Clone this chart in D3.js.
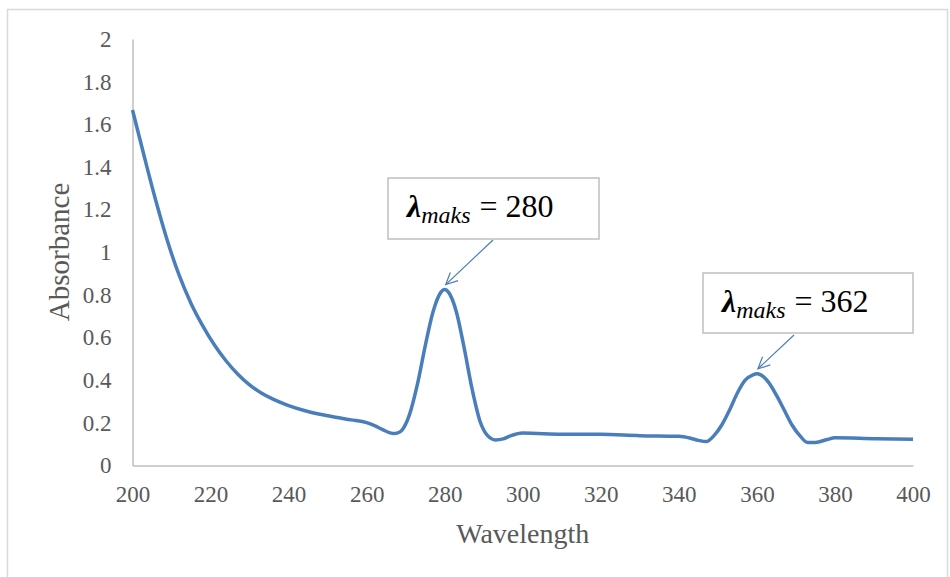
<!DOCTYPE html>
<html>
<head>
<meta charset="utf-8">
<script src="https://cdn.jsdelivr.net/npm/d3@7"></script>
<style>
  body { margin: 0; background: #fff; }
  svg { display: block; }
  svg text { font-family: 'Liberation Serif', 'Times New Roman', serif; }
</style>
</head>
<body>
<svg id="chart" width="950" height="577"></svg>
<script>
// Data
let wavelength = [200, 203, 206, 209, 212, 215, 218, 221, 224, 227, 230, 233, 236, 240, 244, 248, 252, 256, 260, 262, 264, 266, 267, 268, 269, 271, 273, 275, 277, 279, 280, 281, 283, 285, 287, 289, 291, 293, 295, 297, 300, 310, 320, 330, 340, 343, 345, 347, 349, 351, 353, 355, 357, 359, 360, 361, 363, 365, 367, 369, 371, 373, 375, 378, 380, 390, 400];
let absorbance = [1.667, 1.45, 1.24, 1.05, 0.89, 0.76, 0.655, 0.565, 0.49, 0.428, 0.378, 0.34, 0.311, 0.281, 0.258, 0.24, 0.226, 0.214, 0.201, 0.187, 0.169, 0.153, 0.15, 0.153, 0.165, 0.24, 0.38, 0.56, 0.72, 0.812, 0.825, 0.812, 0.72, 0.55, 0.36, 0.21, 0.14, 0.12, 0.125, 0.14, 0.152, 0.147, 0.146, 0.14, 0.137, 0.128, 0.118, 0.112, 0.14, 0.19, 0.26, 0.34, 0.40, 0.425, 0.43, 0.425, 0.39, 0.33, 0.26, 0.19, 0.14, 0.108, 0.108, 0.122, 0.13, 0.126, 0.123];
let xTicks = [200, 220, 240, 260, 280, 300, 320, 340, 360, 380, 400];
let yTicks = [0, 0.2, 0.4, 0.6, 0.8, 1, 1.2, 1.4, 1.6, 1.8, 2];
let peakNames = ["280", "362"];
let peakAt = [280, 360];

let svg = d3.select("svg#chart");
let serif = "'Liberation Serif', 'Times New Roman', serif";

// outer chart border
svg.append("rect")
  .attr("x", 7.5).attr("y", 9.5)
  .attr("width", 940).attr("height", 580)
  .attr("fill", "#fff")
  .attr("stroke", "#d9d9d9")
  .attr("stroke-width", 1.5);

let x = d3.scaleLinear().domain([200, 400]).range([132.5, 913]);
let y = d3.scaleLinear().domain([0, 2]).range([465.5, 39]);

let grey = "#595959";

// y axis
let yAxis = svg.append("g")
  .attr("transform", "translate(" + x(200) + ",0)")
  .call(d3.axisLeft(y).tickValues(yTicks).tickSize(0).tickPadding(21).tickFormat(d3.format("")));
yAxis.attr("font-family", serif).attr("font-size", 23);
yAxis.select(".domain").attr("stroke", "#bfbfbf").attr("stroke-width", 1.5);
yAxis.selectAll("text").attr("fill", grey);

// x axis
let xAxis = svg.append("g")
  .attr("transform", "translate(0," + y(0) + ")")
  .call(d3.axisBottom(x).tickValues(xTicks).tickSize(0).tickPadding(20));
xAxis.attr("font-family", serif).attr("font-size", 23);
xAxis.select(".domain").attr("stroke", "#bfbfbf").attr("stroke-width", 1.5);
xAxis.selectAll("text").attr("fill", grey);

// axis titles
svg.append("text")
  .attr("x", (x(200) + x(400)) / 2)
  .attr("y", 543)
  .attr("text-anchor", "middle")
  .attr("fill", grey)
  .attr("font-family", serif)
  .attr("font-size", 28)
  .text("Wavelength");

svg.append("text")
  .attr("transform", "translate(69," + 252 + ")rotate(-90)")
  .attr("text-anchor", "middle")
  .attr("fill", grey)
  .attr("font-family", serif)
  .attr("font-size", 29)
  .text("Absorbance");

// spectrum line
let points = wavelength.map((w, i) => [w, absorbance[i]]);
svg.append("path")
  .datum(points)
  .attr("fill", "none")
  .attr("stroke", "#4a7ebb")
  .attr("stroke-width", 3.5)
  .attr("stroke-linejoin", "round")
  .attr("d", d3.line().x(d => x(d[0])).y(d => y(d[1])).curve(d3.curveMonotoneX));

// callouts
let boxes = [
  { left: 388, top: 178, w: 211, h: 61, from: [493, 240] },
  { left: 703, top: 273, w: 210, h: 60, from: [794, 335] }
];

boxes.forEach(function(b, i) {
  let pk = peakAt[i];
  let pkY = absorbance[wavelength.indexOf(pk)];
  let tip = [x(pk) + 1, y(pkY) - 5];

  // arrow
  let dx = tip[0] - b.from[0], dy = tip[1] - b.from[1];
  let ang = Math.atan2(dy, dx);
  let len = 13, spread = 0.45;
  let g = svg.append("g").attr("stroke", "#4a7ebb").attr("stroke-width", 1.2).attr("fill", "none");
  g.append("line")
    .attr("x1", b.from[0]).attr("y1", b.from[1])
    .attr("x2", tip[0]).attr("y2", tip[1]);
  g.append("path")
    .attr("d", "M" + (tip[0] - len * Math.cos(ang - spread)) + "," + (tip[1] - len * Math.sin(ang - spread)) +
      "L" + tip[0] + "," + tip[1] +
      "L" + (tip[0] - len * Math.cos(ang + spread)) + "," + (tip[1] - len * Math.sin(ang + spread)));

  svg.append("rect")
    .attr("x", b.left).attr("y", b.top)
    .attr("width", b.w).attr("height", b.h)
    .attr("fill", "#fff")
    .attr("stroke", "#bfbfbf")
    .attr("stroke-width", 1.5);

  let t = svg.append("text")
    .attr("x", b.left + 19)
    .attr("y", b.top + 39)
    .attr("fill", "#000")
    .attr("font-family", serif)
    .attr("font-size", 32);
  t.append("tspan")
    .attr("font-weight", "bold")
    .attr("font-style", "italic")
    .text("λ");
  t.append("tspan")
    .attr("dy", 6)
    .attr("font-style", "italic")
    .attr("font-size", 24)
    .text("maks");
  t.append("tspan")
    .attr("dy", -6)
    .attr("dx", 9)
    .text("= " + peakNames[i]);
});
</script>
</body>
</html>
